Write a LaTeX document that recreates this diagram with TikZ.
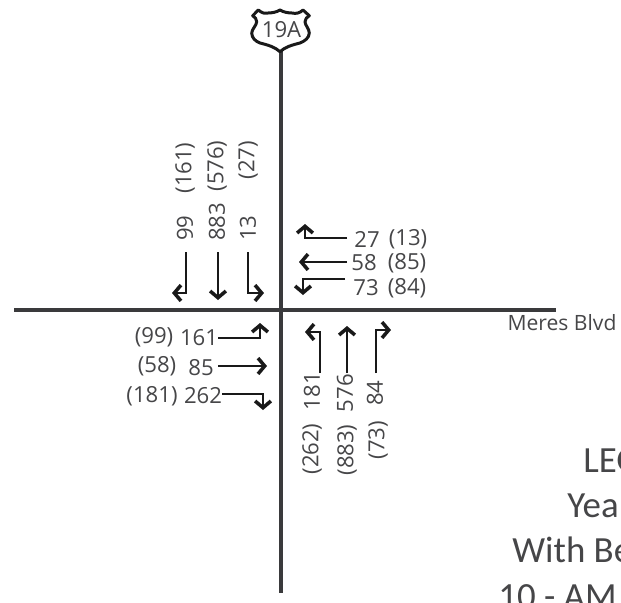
\documentclass[tikz,border=0pt]{standalone}
\usepackage{fontspec}
\setmainfont{Open Sans}
\newfontfamily\bigfam{Carlito}
\usetikzlibrary{arrows.meta}
\definecolor{roadgray}{RGB}{58,58,60}
\definecolor{txtgray}{RGB}{70,70,72}
\tikzset{
  road/.style={draw=roadgray, line width=2.5pt},
  flow/.style={draw=black!90, line width=1.3pt, -{Straight Barb[length=3.8pt,width=9pt,line width=2pt]}},
  count/.style={font=\fontsize{12.6}{14}\selectfont, text=txtgray, inner sep=0pt},
  countup/.style={count, rotate=90},
  bigtxt/.style={font=\bigfam\fontsize{21}{26}\selectfont, text=txtgray, anchor=base west, inner sep=0pt}
}
\begin{document}
\begin{tikzpicture}[x=0.2mm, y=-0.2mm]
  \clip (0,0) rectangle (621,602);
  % road ends
  \coordinate (roadN) at (281,51);
  \coordinate (roadS) at (281,593);
  \coordinate (roadW) at (14,310);
  \coordinate (roadE) at (556,310);
  \draw[road] (roadN) -- (roadS);
  \draw[road] (roadW) -- (roadE);
  % shield
  \draw[black!90, line width=1.7pt, fill=white, line join=round]
    (252.7,15.7) -- (258.3,10) .. controls (262,13) and (265,14) .. (268,13)
    .. controls (272,13) and (277,12) .. (280,10) .. controls (283,12) and (288,13) .. (292,13)
    .. controls (296,14) and (300,13) .. (303,10) -- (309.3,15.7)
    .. controls (307,17) and (305,19) .. (305,21.7) .. controls (305,25) and (309.3,29) .. (309.3,33)
    .. controls (309,38) and (305,41) .. (300,43) .. controls (292,45) and (285,47) .. (280,51.7)
    .. controls (275,47) and (268,45) .. (260,43) .. controls (255,41) and (252,38) .. (251.7,33)
    .. controls (252,29) and (256.7,25) .. (256.7,21.7) .. controls (256.7,19) and (255,17) .. (252.7,15.7) -- cycle;
  \node[count] (shield) at (281.5,30) {19A};
  % southbound
  \coordinate (sbLa) at (186,252); \coordinate (sbLb) at (172,293);
  \coordinate (sbTa) at (218,252); \coordinate (sbTb) at (218,300);
  \coordinate (sbRa) at (248,252); \coordinate (sbRb) at (264,293);
  \draw[flow] (sbLa) |- (sbLb);
  \draw[flow] (sbTa) -- (sbTb);
  \draw[flow] (sbRa) |- (sbRb);
  % westbound
  \coordinate (wbRa) at (347,238); \coordinate (wbRb) at (305,224);
  \coordinate (wbTa) at (347,262); \coordinate (wbTb) at (299,262);
  \coordinate (wbLa) at (345,279); \coordinate (wbLb) at (303,295);
  \draw[flow] (wbRa) -| (wbRb);
  \draw[flow] (wbTa) -- (wbTb);
  \draw[flow] (wbLa) -| (wbLb);
  % eastbound
  \coordinate (ebLa) at (218,338); \coordinate (ebLb) at (260,323);
  \coordinate (ebTa) at (218,366); \coordinate (ebTb) at (267,366);
  \coordinate (ebRa) at (222,394); \coordinate (ebRb) at (263,410);
  \draw[flow] (ebLa) -| (ebLb);
  \draw[flow] (ebTa) -- (ebTb);
  \draw[flow] (ebRa) -| (ebRb);
  % northbound
  \coordinate (nbLa) at (320,373); \coordinate (nbLb) at (305,332);
  \coordinate (nbTa) at (347,373); \coordinate (nbTb) at (347,326);
  \coordinate (nbRa) at (376,373); \coordinate (nbRb) at (391,330);
  \draw[flow] (nbLa) |- (nbLb);
  \draw[flow] (nbTa) -- (nbTb);
  \draw[flow] (nbRa) |- (nbRb);
  % counts
  \node[countup] (sbLam) at (185,228) {99};
  \node[countup] (sbLpm) at (185,168) {(161)};
  \node[countup] (sbTam) at (217,222) {883};
  \node[countup] (sbTpm) at (217,166) {(576)};
  \node[countup] (sbRam) at (248,228) {13};
  \node[countup] (sbRpm) at (248,160) {(27)};
  \node[count] (wbRam) at (367,239) {27};
  \node[count] (wbRpm) at (408,239) {(13)};
  \node[count] (wbTam) at (364,263) {58};
  \node[count] (wbTpm) at (407,263) {(85)};
  \node[count] (wbLam) at (366,288) {73};
  \node[count] (wbLpm) at (407,288) {(84)};
  \node[count] (ebLpm) at (154,337) {(99)};
  \node[count] (ebLam) at (199,338) {161};
  \node[count] (ebTpm) at (157,366) {(58)};
  \node[count] (ebTam) at (201,368) {85};
  \node[count] (ebRpm) at (152,396) {(181)};
  \node[count] (ebRam) at (203,396) {262};
  \node[countup] (nbLam) at (312,391) {181};
  \node[countup] (nbLpm) at (312,449) {(262)};
  \node[countup] (nbTam) at (345,393) {576};
  \node[countup] (nbTpm) at (347,450) {(883)};
  \node[countup] (nbRam) at (375,393) {84};
  \node[countup] (nbRpm) at (378,440) {(73)};
  % street name and cut off text
  \node[font=\fontsize{12}{14}\selectfont, text=txtgray, inner sep=0pt] (meres) at (562,323) {Meres Blvd};
  \node[bigtxt] (legendA) at (583,472) {LEG};
  \node[bigtxt] (legendB) at (567,517) {Year};
  \node[bigtxt] (legendC) at (512,562) {With Be};
  \node[bigtxt] (legendD) at (498,608) {10 - AM};
\end{tikzpicture}
\end{document}
